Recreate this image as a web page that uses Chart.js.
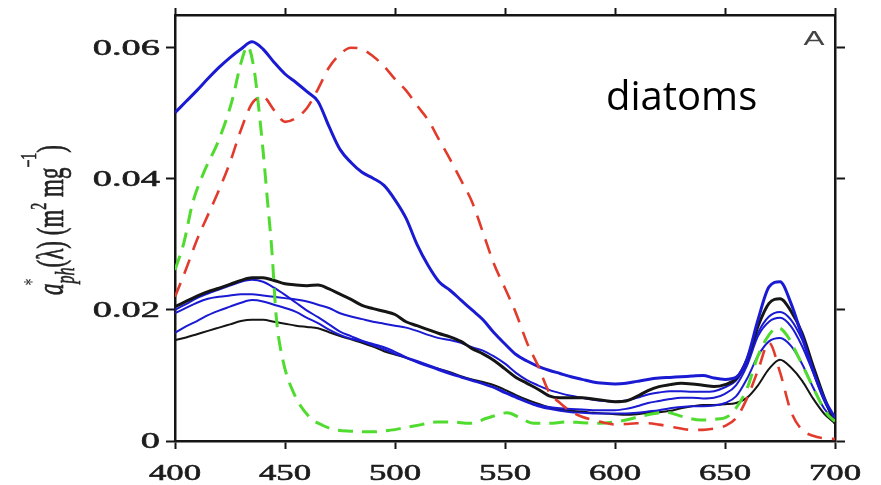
<!DOCTYPE html>
<html>
<head>
<meta charset="utf-8">
<title>diatoms - specific absorption</title>
<script src="https://cdn.jsdelivr.net/npm/chart.js@4.4.1/dist/chart.umd.min.js"></script>
<style>
  html, body { margin: 0; padding: 0; background: #fff; }
  #wrap { width: 881px; height: 485px; position: relative; }
</style>
</head>
<body>
<div id="wrap"><canvas id="chart"></canvas></div>
<script>
// =========================
// DATA
// =========================
// shared 5 nm grid, 400..700
const wavelengths = [
  400, 405, 410, 415, 420, 425, 430, 435, 440, 445,
  450, 455, 460, 465, 470, 475, 480, 485, 490, 495,
  500, 505, 510, 515, 520, 525, 530, 535, 540, 545,
  550, 555, 560, 565, 570, 575, 580, 585, 590, 595,
  600, 605, 610, 615, 620, 625, 630, 635, 640, 645,
  650, 655, 660, 665, 670, 675, 680, 685, 690, 695, 700,
];

const blueMain = [
  .0501, .0518, .0535, .0553, .0570, .0585, .0598, .0609, .0598, .0578,
  .0560, .0547, .0533, .0518, .0480, .0445, .0425, .0410, .0401, .0390,
  .0368, .0340, .0300, .0268, .0243, .0230, .0215, .0200, .0185, .0165,
  .0148, .0132, .0122, .0114, .0108, .0103, .0098, .0094, .0090, .0088,
  .0087, .0088, .0091, .0094, .0096, .0097, .0098, .0099, .0100, .0096,
  .0094, .0097, .0125, .0185, .0235, .0243, .0210, .0160, .0108, .0065, .0035,
];

const redDashed = [
  .0220, .0262, .0307, .0345, .0383, .0425, .0475, .0515, .0525, .0505,
  .0487, .0493, .0508, .0537, .0570, .0590, .0600, .0598, .0587, .0572,
  .0552, .0535, .0512, .0490, .0460, .0430, .0398, .0365, .0318, .0270,
  .0233, .0195, .0150, .0115, .0075, .0058, .0045, .0037, .0032, .0028,
  .0025, .0026, .0027, .0027, .0025, .0022, .0019, .0017, .0017, .0019,
  .0023, .0035, .0065, .0108, .0150, .0105, .0045, .0017, .0008, .0004, .0003,
];

const blackTop = [
  .0205, .0213, .0221, .0228, .0233, .0239, .0245, .0249, .0249, .0245,
  .0240, .0238, .0237, .0238, .0232, .0224, .0216, .0207, .0202, .0198,
  .0193, .0182, .0176, .0170, .0164, .0159, .0152, .0141, .0133, .0123,
  .0110, .0097, .0088, .0079, .0069, .0066, .0066, .0066, .0064, .0062,
  .0060, .0061, .0068, .0077, .0083, .0086, .0088, .0087, .0085, .0083,
  .0086, .0095, .0124, .0175, .0210, .0217, .0198, .0165, .0115, .0067, .0027,
];

const blackLow = [
  .0154, .0158, .0163, .0168, .0173, .0178, .0183, .0185, .0185, .0182,
  .0179, .0176, .0174, .0172, .0166, .0160, .0155, .0150, .0144, .0137,
  .0132, .0127, .0121, .0115, .0110, .0105, .0099, .0094, .0090, .0085,
  .0078, .0070, .0063, .0057, .0051, .0048, .0046, .0045, .0043, .0042,
  .0041, .0040, .0041, .0043, .0044, .0046, .0050, .0053, .0055, .0055,
  .0056, .0058, .0066, .0085, .0110, .0124, .0112, .0092, .0065, .0042, .0027,
];

const blueA = [
  .0195, .0203, .0211, .0217, .0220, .0222, .0224, .0224, .0222, .0220,
  .0218, .0216, .0213, .0208, .0203, .0195, .0190, .0186, .0182, .0179,
  .0176, .0173, .0168, .0162, .0157, .0154, .0150, .0143, .0138, .0129,
  .0118, .0104, .0093, .0085, .0078, .0073, .0069, .0066, .0063, .0061,
  .0060, .0062, .0066, .0071, .0074, .0076, .0076, .0075, .0075, .0076,
  .0082, .0092, .0120, .0165, .0190, .0197, .0185, .0155, .0110, .0065, .0030,
];

const blueB = [
  .0200, .0209, .0218, .0225, .0231, .0237, .0243, .0246, .0243, .0234,
  .0223, .0211, .0199, .0189, .0178, .0167, .0160, .0153, .0148, .0143,
  .0136, .0128, .0122, .0116, .0110, .0104, .0098, .0093, .0088, .0082,
  .0075, .0068, .0060, .0055, .0052, .0050, .0049, .0048, .0047, .0047,
  .0047, .0049, .0053, .0058, .0061, .0064, .0066, .0066, .0065, .0066,
  .0072, .0085, .0115, .0160, .0182, .0188, .0175, .0145, .0105, .0062, .0030,
];

const blueC = [
  .0165, .0175, .0183, .0192, .0199, .0205, .0211, .0215, .0213, .0208,
  .0203, .0197, .0188, .0180, .0170, .0162, .0156, .0152, .0146, .0140,
  .0133, .0127, .0120, .0114, .0108, .0102, .0097, .0092, .0087, .0081,
  .0073, .0066, .0059, .0053, .0049, .0046, .0044, .0043, .0042, .0042,
  .0042, .0042, .0043, .0045, .0047, .0050, .0052, .0053, .0053, .0054,
  .0058, .0068, .0095, .0130, .0152, .0157, .0145, .0118, .0082, .0050, .0030,
];

// green dashed has its own (denser) sampling around the sharp 433 nm peak
const greenNm = [
  400, 404, 408, 413, 420, 426, 430, 433, 436, 438,
  440, 442, 444, 446, 449, 454, 461, 467, 473, 480,
  489, 497, 504, 512, 519, 526, 534, 542, 551, 557,
  563, 570, 578, 585, 593, 600, 605, 612, 618, 623,
  630, 639, 645, 651, 655, 660, 665, 670, 674, 678,
  684, 690, 696, 700,
];
const greenDashed = [
  .0261, .0302, .0363, .0409, .0460, .0520, .0577, .0602, .0566, .0510,
  .0444, .0368, .0292, .0190, .0124, .0073, .0037, .0024, .0017, .0015,
  .0014, .0016, .0020, .0025, .0029, .0029, .0027, .0035, .0043, .0035,
  .0027, .0027, .0029, .0028, .0027, .0029, .0032, .0038, .0042, .0044,
  .0038, .0032, .0033, .0037, .0050, .0080, .0130, .0162, .0173, .0162,
  .0124, .0082, .0043, .0030,
];

// axes
const xTicks = [400, 450, 500, 550, 600, 650, 700];
const xTickLabels = ['400', '450', '500', '550', '600', '650', '700'];
const yTicks = [0, 0.02, 0.04, 0.06];
const yTickLabels = ['0', '0.02', '0.04', '0.06'];

// =========================
// HELPERS
// =========================
const INK = '#151515';
const BLUE = '#1a1ad2';

const toPoints = (xs, ys) => xs.map((x, i) => ({ x, y: ys[i] }));

function line(label, xs, ys, color, width, dash) {
  return {
    label,
    data: toPoints(xs, ys),
    borderColor: color,
    borderWidth: width,
    borderDash: dash || [],
    pointRadius: 0,
    fill: false,
    cubicInterpolationMode: 'monotone',
  };
}

function axis(position, min, max, ticks, size, tickLength) {
  const horizontal = position === 'top' || position === 'bottom';
  return {
    type: 'linear',
    position,
    min,
    max,
    afterBuildTicks: (s) => { s.ticks = ticks.map((v) => ({ value: v })); },
    afterFit: (s) => { if (horizontal) s.height = size; else s.width = size; },
    ticks: { display: false },
    grid: {
      display: true,
      drawOnChartArea: false,
      drawTicks: true,
      tickLength,
      tickWidth: 2,
      tickColor: INK,
    },
    border: { display: true, color: INK, width: 2.5 },
  };
}

// stretched text, the original raster is wider than it is tall
function stretchText(ctx, text, x, y, sx, align, stroke) {
  ctx.save();
  ctx.translate(x, y);
  ctx.scale(sx, 1);
  ctx.textAlign = align;
  if (stroke) {
    ctx.lineWidth = stroke;
    ctx.strokeStyle = ctx.fillStyle;
    ctx.strokeText(text, 0, 0);
  }
  ctx.fillText(text, 0, 0);
  ctx.restore();
}

// rotated y title: a*_ph(λ) (m^2 mg^-1)
function drawYTitle(ctx) {
  const size = 23;
  const serif = '"Liberation Serif", "Times New Roman", serif';
  const parts = [
    { t: 'a', it: true },
    { sup: '*', sub: 'ph' },
    { t: '(\u03bb) (m' },
    { t: '2', s: 0.62, dy: -0.45 },
    { t: ' mg' },
    { t: '\u22121', s: 0.62, dy: -0.72 },
    { t: ')' },
  ];
  const fontOf = (scale, it) => `${it ? 'italic ' : ''}${Math.round(size * scale)}px ${serif}`;

  // measure total length first
  let total = 0;
  parts.forEach((p) => {
    if (p.sub) {
      ctx.font = fontOf(0.7, true);
      p.w = ctx.measureText(p.sub).width;
    } else {
      ctx.font = fontOf(p.s || 1, p.it);
      p.w = ctx.measureText(p.t).width;
    }
    total += p.w;
  });

  ctx.save();
  ctx.fillStyle = '#222';
  ctx.strokeStyle = '#222';
  ctx.lineWidth = 0.4;
  ctx.translate(63, 220 + total / 2);
  ctx.rotate(-Math.PI / 2);
  ctx.scale(1, 1.65);
  ctx.textBaseline = 'alphabetic';
  ctx.textAlign = 'left';
  let cx = 0;
  parts.forEach((p) => {
    if (p.sub) {
      ctx.font = fontOf(0.7, true);
      ctx.fillText(p.sub, cx, size * 0.28);
      ctx.strokeText(p.sub, cx, size * 0.28);
      ctx.font = fontOf(0.6, false);
      ctx.fillText(p.sup, cx - 2, -size * 0.62);
    } else {
      ctx.font = fontOf(p.s || 1, p.it);
      ctx.fillText(p.t, cx, (p.dy || 0) * size);
      ctx.strokeText(p.t, cx, (p.dy || 0) * size);
    }
    cx += p.w;
  });
  ctx.restore();
}

// =========================
// TEXT PLUGIN
// =========================
const textPlugin = {
  id: 'figureText',
  afterDraw(chart) {
    const { ctx } = chart;
    const { x, y } = chart.scales;

    ctx.save();
    ctx.fillStyle = '#1c1c1c';
    ctx.font = '24px "Liberation Serif", "Times New Roman", serif';

    // y tick labels
    ctx.textBaseline = 'middle';
    yTicks.forEach((v, i) => {
      stretchText(ctx, yTickLabels[i], 160, y.getPixelForValue(v) + 1, 1.6, 'right', 0.6);
    });

    // x tick labels
    ctx.textBaseline = 'alphabetic';
    xTicks.forEach((v, i) => {
      stretchText(ctx, xTickLabels[i], x.getPixelForValue(v), 480, 1.45, 'center', 0.6);
    });

    // panel letter
    ctx.fillStyle = '#444';
    ctx.font = '21px "Liberation Sans", Arial, sans-serif';
    stretchText(ctx, 'A', 814, 45, 1.5, 'center');

    // annotation
    ctx.fillStyle = '#000';
    ctx.font = '40px "Open Sans", sans-serif';
    ctx.textAlign = 'left';
    ctx.fillText('diatoms', 606, 110);
    ctx.restore();

    drawYTitle(ctx);
  },
};

// =========================
// CHART
// =========================
new Chart(document.getElementById('chart'), {
  type: 'line',
  data: {
    datasets: [
      line('red', wavelengths, redDashed, '#e23b2c', 2.6, [15, 10]),
      line('green', greenNm, greenDashed, '#4fdc2e', 3, [15, 9]),
      line('blue 1', wavelengths, blueMain, BLUE, 3),
      line('black 1', wavelengths, blackTop, INK, 3),
      line('blue 2', wavelengths, blueA, BLUE, 2),
      line('blue 3', wavelengths, blueB, BLUE, 2),
      line('blue 4', wavelengths, blueC, BLUE, 2),
      line('black 2', wavelengths, blackLow, INK, 2),
    ],
  },
  options: {
    animation: false,
    responsive: true,
    maintainAspectRatio: false,
    layout: { padding: 0 },
    plugins: {
      legend: { display: false },
      tooltip: { enabled: false },
    },
    scales: {
      x: axis('bottom', 400, 700, xTicks, 44, 8),
      x2: axis('top', 400, 700, xTicks, 15, 7),
      y: axis('left', 0, 0.065, yTicks, 175, 9),
      y2: axis('right', 0, 0.065, yTicks, 46, 10),
    },
  },
  plugins: [textPlugin],
});
</script>
</body>
</html>
